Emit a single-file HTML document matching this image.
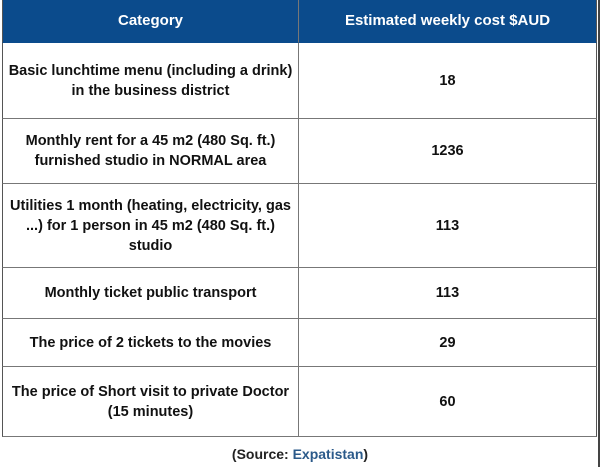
<!DOCTYPE html>
<html><head><meta charset="utf-8"><style>
body{margin:0;width:600px;height:467px;background:#fff;position:relative;overflow:hidden;font-family:"Liberation Sans",sans-serif;}
.c{position:absolute;box-sizing:border-box;display:flex;align-items:center;justify-content:center;text-align:center;font-weight:bold;font-size:14.5px;line-height:20px;color:#111;border-bottom:1px solid #777;}
.h{background:#0b4b8c;color:#fff;font-size:15px;border-bottom:1px solid #0b4b8c;}
.l{left:2px;width:297px;border-left:1px solid #555;border-right:1px solid #777;}
.r{left:299px;width:298px;border-right:1px solid #555;}
</style></head><body>
<div>
<div class="c h l" style="top:0;height:43px">Category</div>
<div class="c h r" style="top:0;height:43px">Estimated weekly cost $AUD</div>

<div class="c l" style="top:43px;height:76px">Basic lunchtime menu (including a drink)<br>in the business district</div>
<div class="c r" style="top:43px;height:76px">18</div>

<div class="c l" style="top:119px;height:65px">Monthly rent for a 45 m2 (480 Sq. ft.)<br>furnished studio in NORMAL area</div>
<div class="c r" style="top:119px;height:65px">1236</div>

<div class="c l" style="top:184px;height:84px">Utilities 1 month (heating, electricity, gas<br>...) for 1 person in 45 m2 (480 Sq. ft.)<br>studio</div>
<div class="c r" style="top:184px;height:84px">113</div>

<div class="c l" style="top:268px;height:51px">Monthly ticket public transport</div>
<div class="c r" style="top:268px;height:51px">113</div>

<div class="c l" style="top:319px;height:48px">The price of 2 tickets to the movies</div>
<div class="c r" style="top:319px;height:48px">29</div>

<div class="c l" style="top:367px;height:70px">The price of Short visit to private Doctor<br>(15 minutes)</div>
<div class="c r" style="top:367px;height:70px">60</div>
</div>
<div style="position:absolute;top:446px;left:0;width:600px;text-align:center;font-weight:bold;font-size:14px;color:#222">(Source: <span style="color:#2b5a8a">Expatistan</span>)</div>
<div style="position:absolute;top:0;right:0;width:2px;height:467px;background:#444"></div>
</body></html>
